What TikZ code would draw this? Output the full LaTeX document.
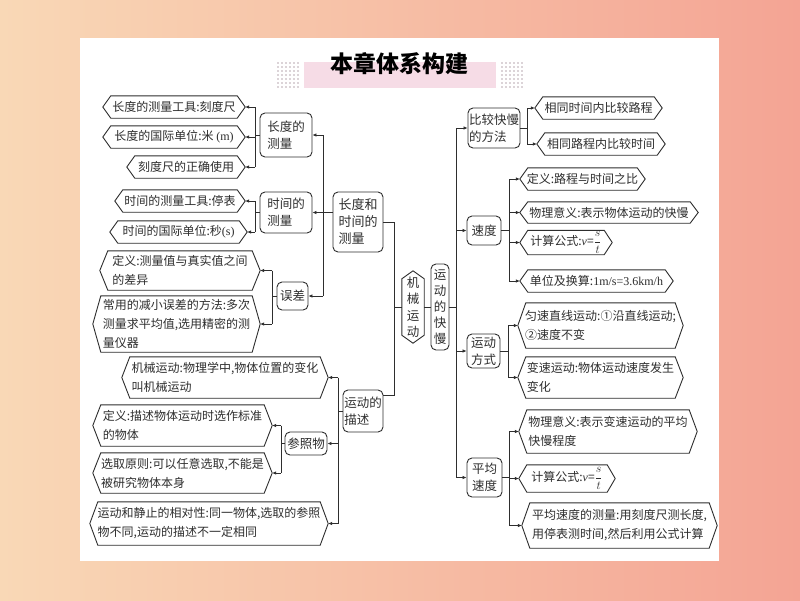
\documentclass[tikz,border=0pt]{standalone}
\usepackage{fontspec}
\setmainfont{Noto Sans CJK SC}
\newfontfamily\latfont{Liberation Serif}
\usetikzlibrary{arrows.meta,calc}
\definecolor{bgL}{HTML}{F9D8B6}
\definecolor{bgR}{HTML}{F4A494}
\definecolor{band}{HTML}{F6DCE6}
\definecolor{dotc}{HTML}{DCD4D8}
\definecolor{ink}{HTML}{2E2E2E}
\newcommand\vformula{{\latfont\itshape v}={\fontsize{11.5}{11.5}\selectfont$\displaystyle\frac{s}{t}$}}
\tikzset{
  leaf/.style={rectangle, inner sep=0pt, align=left, font=\fontsize{12}{19}\selectfont, text=ink},
  wh/.style 2 args={minimum width=#1pt, minimum height=#2pt},
  hexline/.style={draw=ink, line width=0.9pt, line join=miter},
  rbox/.style={draw=ink, line width=0.9pt, rounded corners=5pt, inner sep=0pt, align=left, font=\fontsize{12.5}{17}\selectfont, text=ink},
  vbox/.style={rectangle, inner sep=0pt, align=center, font=\fontsize{12.5}{16.5}\selectfont, text=ink},
  conn/.style={draw=ink, line width=0.8pt},
  arr/.style={conn, -{Latex[length=4pt,width=3.6pt]}},
}
\begin{document}
\begin{tikzpicture}[x=1pt,y=-1pt]
\useasboundingbox (0,0) rectangle (800,600);
\shade[left color=bgL, right color=bgR] (0,0) rectangle (800,600);
\fill[white] (80,38) rectangle (719,561);
% title
\fill[band] (304,62) rectangle (496,88);
\foreach \i in {0,...,5}{\foreach \j in {0,...,6}{
  \fill[dotc] (277+\i*4,62+\j*4) rectangle ++(1.6,1.6);
  \fill[dotc] (501+\i*4,62+\j*4) rectangle ++(1.6,1.6);}}
\node[font=\fontsize{23}{23}\selectfont\bfseries, text=black] (title) at (399,63.5) {本章体系构建};

% left leaves
\node[leaf, wh={142}{22}] (L1) at (174,107) {长度的测量工具:刻度尺};
\node[leaf, wh={142}{22}] (L2) at (174,137) {长度的国际单位:米 {\latfont (m)}};
\node[leaf, wh={118}{22}] (L3) at (186,167) {刻度尺的正确使用};
\node[leaf, wh={130}{22}] (L4) at (180,201) {时间的测量工具:停表};
\node[leaf, wh={137}{22}] (L5) at (178.5,232) {时间的国际单位:秒{\latfont(s)}};
\node[leaf, wh={160}{39}] (L6) at (180,270.5) {定义:测量值与真实值之间\\的差异};
\node[leaf, wh={167}{56}] (L7) at (176.5,324) {常用的减小误差的方法:多次\\测量求平均值,选用精密的测\\量仪器};
\node[leaf, wh={206}{41}] (L8) at (225,377.5) {机械运动:物理学中,物体位置的变化\\叫机械运动};
\node[leaf, wh={179}{41}] (L9) at (182.5,425.5) {定义:描述物体运动时选作标准\\的物体};
\node[leaf, wh={179}{40}] (L10) at (182.5,473) {选取原则:可以任意选取,不能是\\被研究物体本身};
\node[leaf, wh={238}{43}] (L11) at (209,523.5) {运动和静止的相对性:同一物体,选取的参照\\物不同,运动的描述不一定相同};

% right leaves
\node[leaf, wh={127}{22}] (R1) at (598.5,108) {相同时间内比较路程};
\node[leaf, wh={128}{22}] (R2) at (601,144) {相同路程内比较时间};
\node[leaf, wh={125}{22}] (R3) at (582.5,179) {定义:路程与时间之比};
\node[leaf, wh={178}{21}] (R4) at (609,212.5) {物理意义:表示物体运动的快慢};
\node[leaf, wh={92}{24}] (R5) at (566,242.5) {计算公式:\vformula};
\node[leaf, wh={153}{22}] (R6) at (596.5,281) {单位及换算:{\latfont 1m/s=3.6km/h}};
\node[leaf, wh={165}{45}] (R7) at (600.5,325.5) {匀速直线运动:①沿直线运动;\\②速度不变};
\node[leaf, wh={165}{41}] (R8) at (600.5,377.5) {变速运动:物体运动速度发生\\变化};
\node[leaf, wh={178}{43}] (R9) at (608,431.5) {物理意义:表示变速运动的平均\\快慢程度};
\node[leaf, wh={96}{27}] (R10) at (567,478.5) {计算公式:\vformula};
\node[leaf, wh={195}{45}] (R11) at (619.5,525.5) {平均速度的测量:用刻度尺测长度,\\用停表测时间,然后利用公式计算};

\foreach \n in {L1,L2,L3,L4,L5,L6,L7,L8,L9,L10,L11,R1,R2,R3,R4,R5,R6,R7,R8,R9,R10,R11}{
  \draw[hexline] ([xshift=8pt]\n.north west) -- ([xshift=-8pt]\n.north east) -- (\n.east)
    -- ([xshift=-8pt]\n.south east) -- ([xshift=8pt]\n.south west) -- (\n.west) -- cycle;}

% rounded nodes
\node[rbox, wh={52}{44}] (LenM) at (286,135) {长度的\\测量};
\node[rbox, wh={52}{41}] (TimeM) at (286,212.5) {时间的\\测量};
\node[rbox, wh={31}{28}] (Err) at (292.5,296) {误差};
\node[rbox, wh={50}{60}, font=\fontsize{13}{17}\selectfont] (LT) at (358,222) {长度和\\时间的\\测量};
\node[rbox, wh={40}{42}] (MD) at (363,411) {运动的\\描述};
\node[rbox, wh={42}{23}] (Ref) at (306,443.5) {参照物};
\node[vbox, wh={22}{72}] (Mech) at (413,307) {机\\械\\运\\动};
\draw[hexline] (Mech.north) -- ([yshift=-8pt]Mech.north east) -- ([yshift=8pt]Mech.south east)
  -- (Mech.south) -- ([yshift=8pt]Mech.south west) -- ([yshift=-8pt]Mech.north west) -- cycle;
\node[rbox, wh={18}{86}, align=center, font=\fontsize{12.5}{16}\selectfont] (Fast) at (440,307) {运\\动\\的\\快\\慢};
\node[rbox, wh={52}{40}] (Cmp) at (494,128) {比较快慢\\的方法};
\node[rbox, wh={34}{29}] (Spd) at (484,230.5) {速度};
\node[rbox, wh={33}{34}, align=center] (Mode) at (483.5,351) {运动\\方式};
\node[rbox, wh={35}{39}, align=center] (Avg) at (484.5,477.5) {平均\\速度};

% junction x positions
\coordinate (jA) at (255,0);
\coordinate (jE) at (272,0);
\coordinate (jL) at (323,0);
\coordinate (jM) at (394,0);
\coordinate (jD) at (338,0);
\coordinate (jF) at (281,0);
\coordinate (jR) at (456,0);
\coordinate (jC) at (527,0);
\coordinate (jS) at (509,0);
\coordinate (jO) at (508,0);
\coordinate (jV) at (509,0);

% length group
\draw[conn] (LenM.west) -- (jA |- LenM.west);
\draw[conn] (jA |- L1.east) -- (jA |- L3.east);
\foreach \n in {L1,L2,L3} \draw[arr] (jA |- \n.east) -- (\n.east);
% time group
\draw[conn] (TimeM.west) -- (jA |- TimeM.west);
\draw[conn] (jA |- L4.east) -- (jA |- L5.east);
\foreach \n in {L4,L5} \draw[arr] (jA |- \n.east) -- (\n.east);
% error group
\draw[conn] (Err.west) -- (jE |- Err.west);
\draw[conn] (jE |- L6.east) -- (jE |- L7.east);
\foreach \n in {L6,L7} \draw[arr] (jE |- \n.east) -- (\n.east);
% LT group
\draw[arr] (LT.west |- TimeM.east) -- (TimeM.east);
\draw[conn] (jL |- LenM.east) -- (jL |- Err.east);
\draw[arr] (jL |- LenM.east) -- (LenM.east);
\draw[arr] (jL |- Err.east) -- (Err.east);
% central trunk
\coordinate (MDc) at ($(MD.north east)+(0,6)$);
\draw[conn] (LT.east) -- (jM |- LT.east) -- (jM |- MDc) -- (MDc);
\draw[conn] (Mech.west) -- (jM |- Mech.west);
\draw[conn] (Mech.east) -- (Fast.west);
\draw[conn] (Fast.east) -- (jR |- Fast.east);
% motion description group
\draw[conn] (MD.west) -- (jD |- MD.west);
\draw[conn] (jD |- L8.east) -- (jD |- L11.east);
\foreach \n in {L8,Ref,L11} \draw[arr] (jD |- \n.east) -- (\n.east);
\draw[conn] (Ref.west) -- (jF |- Ref.west);
\draw[conn] (jF |- L9.east) -- (jF |- L10.east);
\foreach \n in {L9,L10} \draw[arr] (jF |- \n.east) -- (\n.east);
% right trunk
\draw[conn] (jR |- Cmp.west) -- (jR |- Avg.west);
\foreach \n in {Cmp,Spd,Mode,Avg} \draw[arr] (jR |- \n.west) -- (\n.west);
% compare group
\draw[conn] (Cmp.east) -- (jC |- Cmp.east);
\draw[conn] (jC |- R1.west) -- (jC |- R2.west);
\foreach \n in {R1,R2} \draw[arr] (jC |- \n.west) -- (\n.west);
% speed group
\draw[conn] (Spd.east) -- (jS |- Spd.east);
\draw[conn] (jS |- R3.west) -- (jS |- R6.west);
\foreach \n in {R3,R4,R5,R6} \draw[arr] (jS |- \n.west) -- (\n.west);
% mode group
\draw[conn] (Mode.east) -- (jO |- Mode.east);
\draw[conn] (jO |- R7.west) -- (jO |- R8.west);
\foreach \n in {R7,R8} \draw[arr] (jO |- \n.west) -- (\n.west);
% average group
\draw[conn] (Avg.east) -- (jV |- Avg.east);
\draw[conn] (jV |- R9.west) -- (jV |- R11.west);
\foreach \n in {R9,R10,R11} \draw[arr] (jV |- \n.west) -- (\n.west);
\end{tikzpicture}
\end{document}
